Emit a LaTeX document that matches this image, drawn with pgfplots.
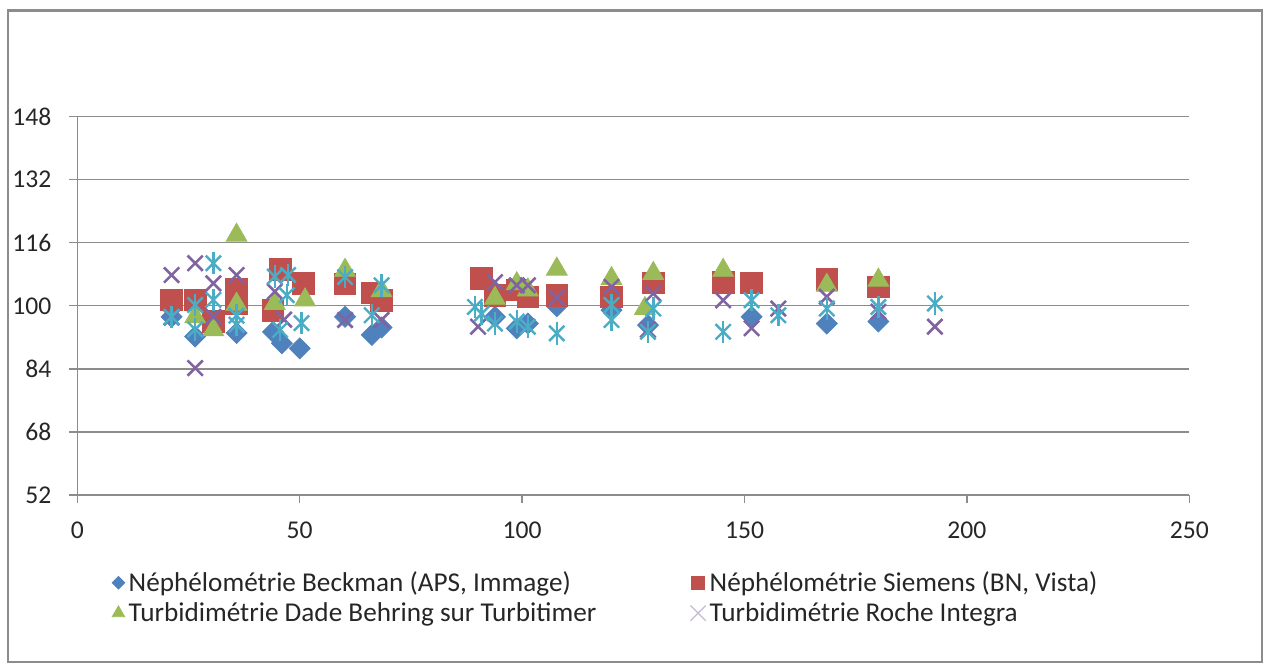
\documentclass[border=0pt]{standalone}
\usepackage{pgfplots}
\pgfplotsset{compat=1.18}
\usepackage{fontspec}
\setmainfont{Carlito}
\definecolor{cblue}{HTML}{4F81BD}
\definecolor{cred}{HTML}{C0504D}
\definecolor{cgreen}{HTML}{9BBB59}
\definecolor{cpurple}{HTML}{8064A2}
\definecolor{ccyan}{HTML}{4BACC6}
\definecolor{cgrid}{HTML}{8C8C8C}
\begin{document}
\begin{tikzpicture}
\begin{axis}[
  at={(0,0)}, anchor=south west,
  scale only axis, width=556pt, height=189.2pt,
  xmin=0, xmax=250, ymin=52, ymax=148,
  xtick={0,50,100,150,200,250},
  ytick={52,68,84,100,116,132,148},
  axis x line*=bottom, axis y line*=left,
  axis line style={cgrid, line width=0.7pt},
  ymajorgrids, grid style={cgrid, line width=0.7pt},
  tick align=outside, major tick length=4pt,
  tick style={cgrid, line width=0.7pt},
  /pgf/number format/assume math mode=true,
  tick label style={font=\fontsize{12.8}{15}\selectfont, text=black!85},
  yticklabel style={xshift=-5.5pt},
  xticklabel style={yshift=-6pt},
  legend columns=2,
  legend style={draw=none, fill=none, at={(axis description cs:0.031,-0.19)}, anchor=north west,
    font=\fontsize{13.6}{16}\selectfont, text=black!85,
    /tikz/every even column/.append style={column sep=45pt},
    row sep=0pt, inner sep=0pt},
  legend cell align=left,
  legend image code/.code={\draw[#1, scale=0.6] plot coordinates {(0.15cm,0cm)};},
]
% Nephelometrie Beckman
\addplot[only marks, mark=square*, mark size=3.7pt, mark options={rotate=45, draw=cblue, fill=cblue}] coordinates {
(21.2,97.2) (26.5,92.2) (35.8,93.1) (44.0,93.4) (46.0,90.5) (50.0,89.2)
(60.2,97.2) (66.2,92.6) (68.4,94.5) (93.9,97.2) (98.8,94.3) (101.3,95.5)
(107.8,99.9) (120.1,98.9) (128.3,95.1) (151.6,97.2) (168.5,95.5) (180.1,96.0)
};
\addlegendentry{Néphélométrie Beckman (APS, Immage)}
% Nephelometrie Siemens
\addplot[only marks, mark=square*, mark size=5.4pt, mark options={draw=cred, fill=cred}] coordinates {
(21.2,101.5) (26.5,101.5) (30.6,96.0) (35.8,104.3) (35.8,100.6) (44.0,98.9)
(45.6,109.3) (50.8,105.7) (60.2,105.6) (66.2,103.3) (68.4,101.3) (90.9,106.9)
(93.9,102.6) (98.8,104.0) (101.3,102.3) (107.8,102.7) (120.1,102.3) (129.5,105.8)
(145.2,106.0) (151.6,105.8) (168.5,106.7) (180.1,104.8)
};
\addlegendentry{Néphélométrie Siemens (BN, Vista)}
% Turbidimetrie Dade Behring
\addplot[only marks, mark=triangle*, mark size=6pt, mark options={draw=cgreen, fill=cgreen}] coordinates {
(26.5,97.2) (30.6,93.9) (35.8,117.9) (35.8,100.4) (44.4,100.6) (51.2,101.5)
(60.2,109.0) (68.4,103.8) (93.9,101.9) (98.8,105.6) (101.3,104.0) (107.8,109.3)
(120.1,106.9) (127.6,99.3) (129.5,108.2) (145.2,109.0) (168.5,105.2) (180.1,106.5)
};
\addlegendentry{Turbidimétrie Dade Behring sur Turbitimer}
% Turbidimetrie Roche Integra
\addplot[only marks, mark=x, mark size=5.4pt, mark options={draw=cpurple, line width=1.3pt}, legend image post style={mark size=9pt, mark options={draw=cpurple!45, line width=0.6pt}}] coordinates {
(21.2,107.8) (21.2,97.0) (26.5,110.8) (26.5,84.2) (30.6,105.7) (30.6,97.2)
(35.8,107.8) (44.4,103.6) (46.5,96.5) (60.2,96.4) (68.4,96.4) (90.1,94.7)
(93.9,106.0) (98.8,105.2) (101.3,105.2) (107.8,102.0) (120.1,104.8) (128.3,93.9)
(129.5,103.1) (145.2,101.4) (151.6,94.3) (157.6,99.3) (168.5,102.3) (180.1,98.5)
(192.8,94.7)
};
\addlegendentry{Turbidimétrie Roche Integra}
% fifth series (asterisks), not in legend
\pgfplotstableread{
x y
21.2 97.2
26.5 100.2
26.5 94.0
30.6 110.8
30.6 101.5
35.8 97.5
35.8 95.2
44.4 107.4
45.6 93.9
47.4 107.8
47.1 102.7
50.4 95.6
60.2 107.3
66.2 97.6
68.4 105.2
89.4 99.7
90.9 98.0
93.9 95.5
98.8 96.0
101.3 94.7
107.8 93.0
120.1 100.2
120.1 96.4
128.3 93.4
129.5 99.3
145.2 93.4
151.6 101.4
157.6 97.6
168.5 99.3
180.1 99.7
192.8 100.6
}\asttable
\addplot[forget plot, only marks, mark=x, mark size=5.4pt, mark options={draw=ccyan, line width=1.2pt}] table[x=x,y=y] {\asttable};
\addplot[forget plot, only marks, mark=|, mark size=5.6pt, mark options={draw=ccyan, line width=1.2pt}] table[x=x,y=y] {\asttable};
\end{axis}
\draw[cgrid, line width=1.1pt] (-34.5pt,-83.3pt) rectangle (592.3pt,242.2pt);
\pgfresetboundingbox
\useasboundingbox (-38.65pt,-84.5pt) rectangle (593.35pt,247.5pt);
\end{tikzpicture}
\end{document}
